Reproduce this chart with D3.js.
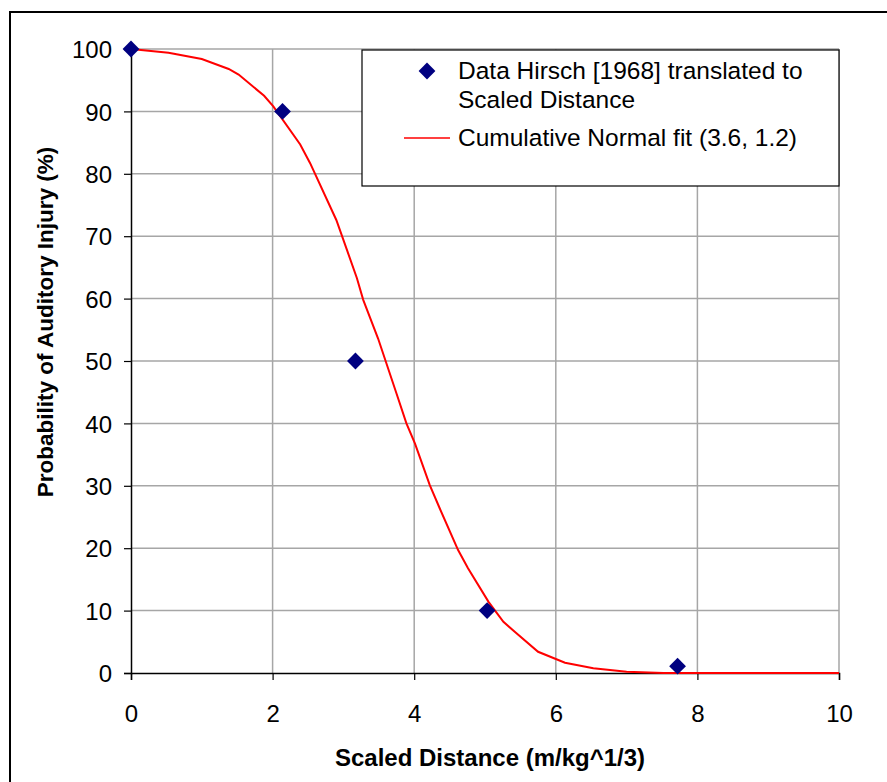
<!DOCTYPE html>
<html>
<head>
<meta charset="utf-8">
<script src="https://cdn.jsdelivr.net/npm/d3@7"></script>
<style>
  body { margin: 0; background: #fff; }
  svg text { font-family: "Liberation Sans", Arial, sans-serif; }
</style>
</head>
<body>
<svg id="chart"></svg>
<script>
let width = 887;
let height = 782;
let margin = {"top": 49, "bottom": 109, "left": 131, "right": 48};

// Hirsch data points (scaled distance, % injury)
let dataX = [0, 2.14, 3.17, 5.03, 7.72];
let dataY = [100, 90, 50, 10, 1.1];

// fitted curve
let fitX = [0, 0.53, 1.0, 1.38, 1.52, 1.88, 2.01, 2.39, 2.53, 2.9, 3.05, 3.19, 3.28, 3.49, 3.75, 3.89, 4.01, 4.22, 4.36, 4.62, 4.76, 5.05, 5.26, 5.42, 5.75, 6.13, 6.53, 7.0, 7.52, 10];
let fitY = [100, 99.4, 98.4, 96.8, 95.9, 92.5, 90.8, 84.7, 81.7, 72.6, 67.8, 63.3, 59.8, 53.6, 44.8, 40.0, 36.8, 30.1, 26.4, 19.7, 16.8, 11.4, 8.2, 6.6, 3.4, 1.65, 0.75, 0.2, 0, 0];

let xTicks = [0, 2, 4, 6, 8, 10];
let yTicks = [0, 10, 20, 30, 40, 50, 60, 70, 80, 90, 100];

let legendLabels = ["Data Hirsch [1968] translated to", "Scaled Distance", "Cumulative Normal fit (3.6, 1.2)"];

let svg = d3.select("#chart")
    .attr("width", width)
    .attr("height", height);

// outer frame
svg.append("rect")
    .attr("x", 10).attr("y", 12)
    .attr("width", 900).attr("height", 800)
    .attr("fill", "none")
    .attr("stroke", "#000")
    .attr("stroke-width", 2);

let x = d3.scaleLinear().domain([0, 10]).range([0, width - margin.left - margin.right]);
let y = d3.scaleLinear().domain([0, 100]).range([height - margin.top - margin.bottom, 0]);

let g = svg.append("g")
    .attr("transform", `translate(${margin.left}, ${margin.top})`);

// grid
g.selectAll("line.hgrid")
    .data(yTicks.filter(d => d > 0))
    .enter().append("line")
    .attr("class", "hgrid")
    .attr("x1", 0).attr("x2", x(10))
    .attr("y1", d => y(d)).attr("y2", d => y(d))
    .attr("stroke", "#a6a6a6")
    .attr("stroke-width", 1.5);

g.selectAll("line.vgrid")
    .data(xTicks.filter(d => d > 0))
    .enter().append("line")
    .attr("class", "vgrid")
    .attr("y1", 0).attr("y2", y(0))
    .attr("x1", d => x(d)).attr("x2", d => x(d))
    .attr("stroke", "#a6a6a6")
    .attr("stroke-width", 1.5);

// axes
let xAxis = d3.axisBottom(x).tickValues(xTicks).tickSize(7).tickPadding(25).tickFormat(d3.format("d"));
let yAxis = d3.axisLeft(y).tickValues(yTicks).tickSize(7).tickPadding(12).tickFormat(d3.format("d"));

let gx = g.append("g")
    .attr("transform", `translate(0, ${y(0)})`)
    .call(xAxis);
let gy = g.append("g").call(yAxis);

[gx, gy].forEach(function(a) {
    a.select(".domain").attr("stroke", "#000").attr("stroke-width", 1.5);
    a.selectAll(".tick line").attr("stroke", "#000").attr("stroke-width", 1.2);
    a.selectAll(".tick text")
        .attr("fill", "#000")
        .style("font-size", "24px")
        .style("font-family", "Liberation Sans, Arial, sans-serif");
});
gy.selectAll(".tick text").attr("dy", "0.36em");

// fitted curve
let line = d3.line()
    .x((d, i) => x(fitX[i]))
    .y((d, i) => y(fitY[i]));

g.append("path")
    .datum(fitX)
    .attr("d", line)
    .attr("fill", "none")
    .attr("stroke", "#ff0000")
    .attr("stroke-width", 2);

// data markers
let diamond = d3.symbol().type(d3.symbolDiamond2).size(180);

g.selectAll("path.pt")
    .data(dataX)
    .enter().append("path")
    .attr("class", "pt")
    .attr("d", diamond)
    .attr("transform", (d, i) => `translate(${x(d)}, ${y(dataY[i])})`)
    .attr("fill", "#000080");

// axis titles
svg.append("text")
    .attr("x", 490)
    .attr("y", 766)
    .attr("text-anchor", "middle")
    .style("font-size", "24px")
    .style("font-weight", "bold")
    .text("Scaled Distance (m/kg^1/3)");

svg.append("text")
    .attr("transform", "translate(53, 322) rotate(-90)")
    .attr("text-anchor", "middle")
    .style("font-size", "22.5px")
    .style("font-weight", "bold")
    .text("Probability of Auditory Injury (%)");

// legend
let legend = svg.append("g");
legend.append("rect")
    .attr("x", 362).attr("y", 50)
    .attr("width", 477).attr("height", 136)
    .attr("fill", "#fff")
    .attr("stroke", "#000")
    .attr("stroke-width", 1.2);

legend.append("path")
    .attr("d", diamond)
    .attr("transform", "translate(427, 71)")
    .attr("fill", "#000080");

legend.append("line")
    .attr("x1", 404).attr("x2", 450)
    .attr("y1", 138).attr("y2", 138)
    .attr("stroke", "#ff0000")
    .attr("stroke-width", 1.5);

legend.selectAll("text")
    .data(legendLabels)
    .enter().append("text")
    .attr("x", 458)
    .attr("y", (d, i) => [79, 108, 146][i])
    .style("font-size", "24.5px")
    .attr("fill", "#000")
    .text(d => d);
</script>
</body>
</html>
